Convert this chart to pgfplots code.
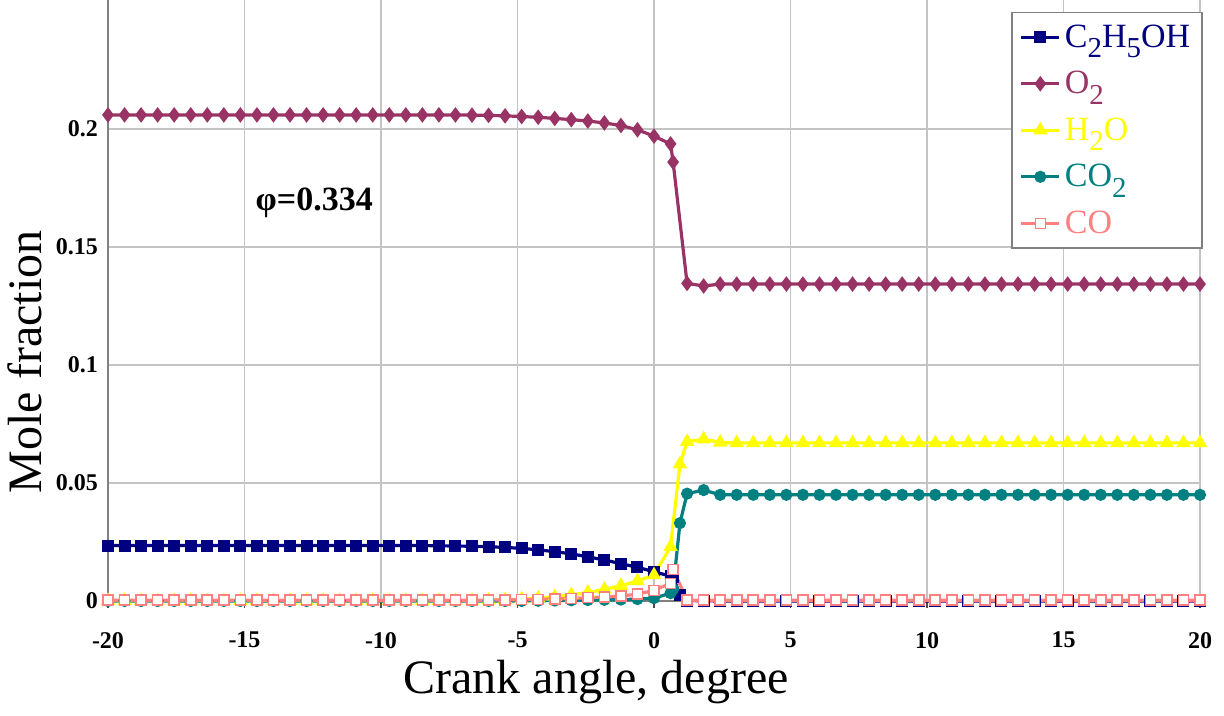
\documentclass[border=0pt]{standalone}
\usepackage{fontspec}
\setmainfont{Liberation Serif}
\usepackage{graphicx}
\usepackage{pgfplots}
\usepackage{pgfplotstable}
\pgfplotsset{compat=1.18}

\definecolor{eth}{HTML}{000080}
\definecolor{oxy}{HTML}{993366}
\definecolor{wat}{HTML}{FFFF00}
\definecolor{cdo}{HTML}{008080}
\definecolor{cmo}{HTML}{FF8080}
\definecolor{axisgray}{HTML}{808080}
\definecolor{gridgray}{HTML}{C4C4C4}

\newcommand{\sub}[1]{\raisebox{-0.32em}{\scalebox{0.85}{#1}}}

% crank angle, then mole fractions (nan = no point for that species)
\pgfplotstableread{
x       eth     o2      h2o     co2     co
-20.000 0.0235  0.2060  0.0001  0.0000  0.0003
-19.394 0.0235  0.2060  0.0001  0.0000  0.0003
-18.788 0.0235  0.2060  0.0001  0.0000  0.0003
-18.182 0.0235  0.2060  0.0001  0.0000  0.0003
-17.576 0.0235  0.2060  0.0001  0.0000  0.0003
-16.970 0.0235  0.2060  0.0001  0.0000  0.0003
-16.364 0.0235  0.2060  0.0001  0.0000  0.0003
-15.758 0.0235  0.2060  0.0001  0.0000  0.0003
-15.152 0.0235  0.2060  0.0001  0.0000  0.0003
-14.545 0.0235  0.2060  0.0001  0.0000  0.0003
-13.939 0.0235  0.2060  0.0001  0.0000  0.0003
-13.333 0.0235  0.2060  0.0001  0.0000  0.0003
-12.727 0.0235  0.2060  0.0001  0.0000  0.0003
-12.121 0.0235  0.2060  0.0001  0.0000  0.0003
-11.515 0.0235  0.2060  0.0001  0.0000  0.0003
-10.909 0.0235  0.2060  0.0001  0.0000  0.0003
-10.303 0.0235  0.2060  0.0001  0.0000  0.0003
-9.697  0.0235  0.2060  0.0001  0.0000  0.0003
-9.091  0.0235  0.2060  0.0001  0.0000  0.0003
-8.485  0.0235  0.2060  0.0001  0.0000  0.0003
-7.879  0.0234  0.2060  0.0001  0.0000  0.0003
-7.273  0.0233  0.2060  0.0001  0.0000  0.0003
-6.667  0.0232  0.2059  0.0002  0.0000  0.0003
-6.061  0.0230  0.2058  0.0003  0.0000  0.0004
-5.455  0.0227  0.2056  0.0005  0.0000  0.0005
-4.848  0.0223  0.2053  0.0008  0.0000  0.0006
-4.242  0.0217  0.2050  0.0012  0.0001  0.0007
-3.636  0.0209  0.2045  0.0018  0.0002  0.0009
-3.030  0.0200  0.2040  0.0026  0.0003  0.0011
-2.424  0.0187  0.2034  0.0036  0.0004  0.0014
-1.818  0.0174  0.2026  0.0049  0.0005  0.0017
-1.212  0.0158  0.2015  0.0065  0.0006  0.0021
-0.606  0.0143  0.1997  0.0085  0.0008  0.0029
0.000   0.0124  0.1970  0.0110  0.0012  0.0045
0.606   0.0105  0.1937  0.0230  0.0033  0.0075
0.700   0.0102  0.1860  nan     0.0050  0.0134
0.950   0.0025  nan     0.0580  0.0330  nan
1.212   0.0002  0.1346  0.0675  0.0455  0.0003
1.818   0.0001  0.1335  0.0686  0.0470  0.0003
2.424   0.0000  0.1343  0.0672  0.0450  0.0003
3.030   0.0000  0.1343  0.0670  0.0450  0.0003
3.636   0.0000  0.1343  0.0670  0.0450  0.0003
4.242   0.0000  0.1343  0.0670  0.0450  0.0003
4.848   0.0000  0.1343  0.0670  0.0450  0.0003
5.455   0.0000  0.1343  0.0670  0.0450  0.0003
6.061   0.0000  0.1343  0.0670  0.0450  0.0003
6.667   0.0000  0.1343  0.0670  0.0450  0.0003
7.273   0.0000  0.1343  0.0670  0.0450  0.0003
7.879   0.0000  0.1343  0.0670  0.0450  0.0003
8.485   0.0000  0.1343  0.0670  0.0450  0.0003
9.091   0.0000  0.1343  0.0670  0.0450  0.0003
9.697   0.0000  0.1343  0.0670  0.0450  0.0003
10.303  0.0000  0.1343  0.0670  0.0450  0.0003
10.909  0.0000  0.1343  0.0670  0.0450  0.0003
11.515  0.0000  0.1343  0.0670  0.0450  0.0003
12.121  0.0000  0.1343  0.0670  0.0450  0.0003
12.727  0.0000  0.1343  0.0670  0.0450  0.0003
13.333  0.0000  0.1343  0.0670  0.0450  0.0003
13.939  0.0000  0.1343  0.0670  0.0450  0.0003
14.545  0.0000  0.1343  0.0670  0.0450  0.0003
15.152  0.0000  0.1343  0.0670  0.0450  0.0003
15.758  0.0000  0.1343  0.0670  0.0450  0.0003
16.364  0.0000  0.1343  0.0670  0.0450  0.0003
16.970  0.0000  0.1343  0.0670  0.0450  0.0003
17.576  0.0000  0.1343  0.0670  0.0450  0.0003
18.182  0.0000  0.1343  0.0670  0.0450  0.0003
18.788  0.0000  0.1343  0.0670  0.0450  0.0003
19.394  0.0000  0.1343  0.0670  0.0450  0.0003
20.000  0.0000  0.1343  0.0670  0.0450  0.0003
}\molefrac

\begin{document}
\begin{tikzpicture}
\begin{axis}[
    scale only axis,
    width=546pt, height=300.5pt,
    xmin=-20, xmax=20, ymin=0, ymax=0.2547,
    axis x line=bottom, axis y line=left,
    axis line style={-, draw=axisgray, line width=0.8pt},
    xtick={-20,-15,...,20},
    ytick={0,0.05,0.1,0.15,0.2},
    grid=major,
    major grid style={draw=gridgray, line width=0.6pt},
    tick align=outside, major tick length=3.5pt,
    x tick style={draw=black!70, line width=0.8pt},
    y tick style={draw=none},
    tick label style={font=\fontsize{12}{14}\selectfont\bfseries},
    xticklabel style={yshift=-8.5pt},
    /pgf/number format/assume math mode=true,
    yticklabel style={xshift=2pt, /pgf/number format/fixed, /pgf/number format/precision=2},
    xlabel={Crank angle, degree},
    xlabel style={font=\fontsize{24}{28}\selectfont, at={(axis description cs:0.447,-0.1531)}, anchor=base},
    ylabel={Mole fraction},
    ylabel style={font=\fontsize{24}{28}\selectfont, at={(axis description cs:-0.0605,0.3977)}, anchor=base},
    legend style={at={(1.0027,0.9805)}, anchor=north east, draw=axisgray, line width=0.8pt,
        fill=white, font=\fontsize{17}{19}\selectfont, row sep=6.5pt,
        inner xsep=4pt, inner ysep=4pt},
    legend cell align=left,
    legend image code/.code={\draw[mark repeat=2,mark phase=2,#1] plot coordinates {(0pt,0pt) (9.5pt,0pt) (19pt,0pt)};},
    clip=false,
]
\addplot[color=eth, line width=1.6pt, mark=square*, mark size=2.2pt] table[x=x, y=eth] {\molefrac};
\addlegendentry{\textcolor{eth}{C\sub{2}H\sub{5}OH}}
\addplot[color=oxy, line width=1.6pt, mark=diamond*, mark size=2.6pt] table[x=x, y=o2] {\molefrac};
\addlegendentry{\textcolor{oxy}{O\sub{2}}}
\addplot[color=wat, line width=1.6pt, mark=triangle*, mark size=2.6pt] table[x=x, y=h2o] {\molefrac};
\addlegendentry{\textcolor{wat}{H\sub{2}O}}
\addplot[color=cdo, line width=1.6pt, mark=*, mark size=2.2pt] table[x=x, y=co2] {\molefrac};
\addlegendentry{\textcolor{cdo}{CO\sub{2}}}
\addplot[color=cmo, line width=1.6pt, mark=square*, mark size=2.5pt, mark options={fill=white, line width=0.8pt}] table[x=x, y=co] {\molefrac};
\addlegendentry{\textcolor{cmo}{CO}}
\node[anchor=base west, font=\fontsize{17}{20}\selectfont\bfseries] at (axis cs:-14.85,0.1653) {φ=0.334};
\end{axis}
\pgfresetboundingbox
\path (-54pt,-57.5pt) rectangle (558pt,300.5pt);
\end{tikzpicture}
\end{document}
